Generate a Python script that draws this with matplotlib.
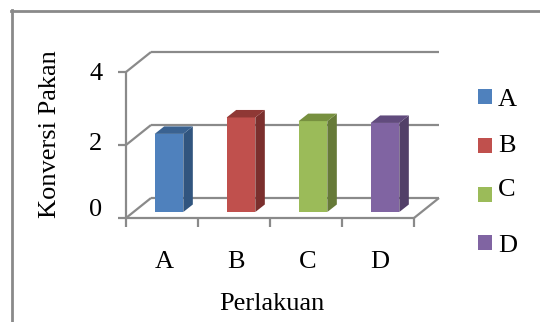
import matplotlib
matplotlib.use('Agg')
import matplotlib.pyplot as plt
from matplotlib.patches import Polygon, Rectangle

perlakuan = ['A', 'B', 'C', 'D']
konversi = [2.14, 2.59, 2.49, 2.44]
warna_depan = ['#4f81bd', '#c0504d', '#9bbb59', '#8064a2']
warna_samping = ['#31557f', '#7b2f2d', '#667a38', '#523f68']
warna_atas = ['#3a6291', '#8f3835', '#77903f', '#614b7d']
yticks = [0, 2, 4]

W, H = 540, 322
GRIS = '#8a8a8a'
plt.rcParams['font.family'] = ['Liberation Serif', 'DejaVu Serif']

fig = plt.figure(figsize=(W / 100, H / 100), dpi=100)

# sumbu utama = bidang depan grafik
left, right, top, bottom = 126, 414, 72, 218
ax = fig.add_axes([left / W, 1 - bottom / H, (right - left) / W, (bottom - top) / H])
ax.set_xlim(0, 4)
ax.set_ylim(0, 4)
ax.patch.set_visible(False)
for s in ax.spines.values():
    s.set_visible(False)

# konversi piksel ke satuan data
px = 4 / (right - left)
py = 4 / (bottom - top)
dx, dy = 25 * px, 20 * py


def garis(xs, ys, lw=1.6, warna=GRIS, z=1):
    ax.plot(xs, ys, color=warna, lw=lw, clip_on=False, zorder=z, solid_capstyle='butt')


# dinding belakang dan lantai
for v in yticks:
    garis([0, dx], [v, v + dy])
    garis([dx, 4 + dx], [v + dy, v + dy])
garis([4, 4 + dx], [0, dy])
garis([0, 0], [0, 4])
garis([0, 4], [0, 0], z=4)

# tick
for v in yticks:
    garis([-8 * px, 0], [v, v])
for i in range(5):
    garis([i, i], [0, -9 * py])

# batang 3D
lebar = 0.398
off_x, off_y = 7 * px, 6 * py
sisi_x, sisi_y = 9.5 * px, 7.5 * py
posisi = [i + 0.5 + off_x for i in range(len(konversi))]
bars = ax.bar(posisi, konversi, width=lebar, bottom=off_y, color=warna_depan, zorder=3)
for b, cs, ca in zip(bars, warna_samping, warna_atas):
    x0, x1 = b.get_x(), b.get_x() + b.get_width()
    y0, y1 = b.get_y(), b.get_y() + b.get_height()
    ax.add_patch(Polygon([(x1, y0), (x1 + sisi_x, y0 + sisi_y), (x1 + sisi_x, y1 + sisi_y), (x1, y1)],
                         color=cs, lw=0, zorder=3, clip_on=False))
    ax.add_patch(Polygon([(x0, y1), (x0 + sisi_x, y1 + sisi_y), (x1 + sisi_x, y1 + sisi_y), (x1, y1)],
                         color=ca, lw=0, zorder=3, clip_on=False))

# label sumbu
FS = 19
ax.set_xticks([])
ax.set_yticks([])
for i, p in enumerate(perlakuan):
    ax.text(i + 0.5 + 2 * px, -42 * py, p, ha='center', va='center_baseline', fontsize=FS)
for v, ypx in zip(yticks, [207, 141, 71]):
    fig.text(96 / W, 1 - ypx / H, str(v), ha='center', va='center_baseline', fontsize=FS)
fig.text(272 / W, 1 - 304 / H, 'Perlakuan', ha='center', va='center', fontsize=FS)
fig.text(50 / W, 1 - 134 / H, 'Konversi Pakan', ha='center', va='center', rotation=90, fontsize=FS)

# legenda
leg_y = [96.5, 145.5, 194.5, 242.5]
leg_txt = [97, 143, 188, 244]
for nama, warna, ky, ty in zip(perlakuan, warna_depan, leg_y, leg_txt):
    fig.add_artist(Rectangle((478 / W, 1 - (ky + 7.5) / H), 14 / W, 15 / H, color=warna, lw=0,
                             transform=fig.transFigure))
    fig.text(498 / W, 1 - ty / H, nama, ha='left', va='center_baseline', fontsize=FS)

# bingkai luar
for xs, ys in [([12, 12], [10, 322]), ([11, 540], [10.5, 10.5])]:
    fig.add_artist(plt.Line2D([x / W for x in xs], [1 - y / H for y in ys], color=GRIS, lw=2.0))

fig.savefig('out.png', dpi=100)
